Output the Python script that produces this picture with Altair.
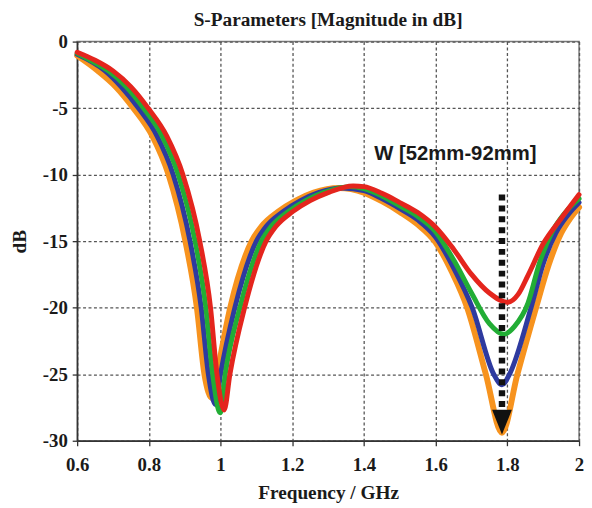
import altair as alt
import pandas as pd

# ---- data (frequency in GHz, magnitude in dB) ----
freq_orange = [0.60, 0.658, 0.708, 0.757, 0.81, 0.855, 0.902, 0.934, 0.955, 0.977, 0.99, 1.027, 1.087,
               1.114, 1.16, 1.21, 1.26, 1.33, 1.40, 1.45, 1.50, 1.55, 1.60, 1.645, 1.688, 1.74, 1.785,
               1.828, 1.88, 1.915, 1.95, 1.975, 2.00]
db_orange = [-1.05, -2.2, -3.4, -5.0, -7.1, -10.0, -15.0, -20.0, -25.0, -26.8, -25.0, -20.0, -15.0,
             -13.9, -12.8, -11.95, -11.35, -11.0, -11.35, -12.0, -12.8, -13.75, -15.1, -17.3, -20.0, -25.0, -29.4,
             -25.0, -20.0, -16.8, -14.4, -13.3, -12.45]

freq_blue = [0.60, 0.678, 0.723, 0.771, 0.823, 0.868, 0.915, 0.946, 0.966, 0.986, 1.0, 1.040, 1.100,
             1.127, 1.173, 1.223, 1.273, 1.34, 1.40, 1.45, 1.50, 1.55, 1.60, 1.65, 1.702, 1.762, 1.785,
             1.806, 1.866, 1.90, 1.935, 1.97, 2.00]
db_blue = [-0.95, -2.2, -3.4, -5.0, -7.1, -10.0, -15.0, -20.0, -25.0, -27.3, -25.0, -20.0, -15.0,
           -13.9, -12.8, -11.95, -11.35, -11.0, -11.2, -11.8, -12.55, -13.4, -14.7, -17.0, -20.0, -25.0, -25.8,
           -25.0, -20.0, -16.7, -14.4, -13.0, -12.1]

freq_green = [0.60, 0.637, 0.687, 0.737, 0.785, 0.837, 0.882, 0.929, 0.959, 0.978, 0.999, 1.013, 1.054,
              1.114, 1.141, 1.187, 1.237, 1.287, 1.36, 1.40, 1.45, 1.50, 1.55, 1.60, 1.65, 1.70, 1.75,
              1.79, 1.82, 1.857, 1.89, 1.925, 1.96, 2.00]
db_green = [-0.88, -1.4, -2.2, -3.4, -5.0, -7.1, -10.0, -15.0, -20.0, -25.0, -27.9, -25.0, -20.0,
            -15.0, -13.9, -12.8, -11.95, -11.35, -10.9, -11.05, -11.6, -12.35, -13.15, -14.3, -16.4, -18.9, -21.2,
            -22.0, -21.4, -19.7, -16.6, -14.3, -12.9, -11.8]

freq_red = [0.60, 0.65, 0.70, 0.75, 0.798, 0.85, 0.895, 0.942, 0.972, 0.99, 1.01, 1.026, 1.067, 1.127,
            1.154, 1.20, 1.25, 1.30, 1.37, 1.40, 1.45, 1.50, 1.55, 1.60, 1.65, 1.70, 1.75, 1.80, 1.83,
            1.857, 1.90, 1.95, 2.00]
db_red = [-0.8, -1.4, -2.2, -3.4, -5.0, -7.1, -10.0, -15.0, -20.0, -25.0, -27.7, -25.0, -20.0, -15.0,
          -13.9, -12.8, -11.95, -11.35, -10.85, -10.9, -11.4, -12.1, -12.85, -13.95, -15.6, -17.5, -18.9, -19.6, -19.0,
          -17.6, -15.2, -13.3, -11.5]

series_names = ["W=92mm", "W=78mm", "W=65mm", "W=52mm"]
series_colors = ["#f7931e", "#2e3a9f", "#22ad35", "#e4251d"]
series_widths = [6, 5, 5, 5]
series_freq = [freq_orange, freq_blue, freq_green, freq_red]
series_db = [db_orange, db_blue, db_green, db_red]

x_ticks = [0.6, 0.8, 1.0, 1.2, 1.4, 1.6, 1.8, 2.0]
y_ticks = [-30, -25, -20, -15, -10, -5, 0]

arrow_x = [1.785]
arrow_top = [-11.5]
arrow_bottom = [-28.0]
arrow_head = [-28.6]

note_text = ["W [52mm-92mm]"]
note_x = [1.655]
note_y = [-8.9]

# ---- encodings ----
SERIF = "Liberation Serif"
x_enc = alt.X("f:Q", scale=alt.Scale(domain=[0.6, 2.0], nice=False, zero=False),
              axis=alt.Axis(values=x_ticks, title="Frequency / GHz",
                            labelExpr="'' + datum.value",
                            titleX=254, titleY=52, titleBaseline="middle", titleAlign="center"))
y_enc = alt.Y("db:Q", scale=alt.Scale(domain=[-30, 0], nice=False, zero=False),
              axis=alt.Axis(values=y_ticks, title="dB",
                            labelExpr="'' + datum.value",
                            titleX=-58, titleY=202, titleAngle=-90,
                            titleBaseline="middle", titleAlign="center"))

layers = []
for name, col, w, fr, db in zip(series_names, series_colors, series_widths, series_freq, series_db):
    df = pd.DataFrame({"f": fr, "db": db, "series": name})
    layers.append(
        alt.Chart(df).mark_line(color=col, strokeWidth=w, interpolate="monotone",
                                strokeCap="round", strokeJoin="round")
        .encode(x=x_enc, y=y_enc)
    )

arrow_df = pd.DataFrame({"f": arrow_x, "db": arrow_top, "db2": arrow_bottom})
arrow_line = alt.Chart(arrow_df).mark_rule(color="#111111", strokeWidth=6.5,
                                           strokeDash=[6, 5]).encode(
    x=x_enc, y=y_enc, y2="db2:Q")

head_df = pd.DataFrame({"f": arrow_x, "db": arrow_head})
arrow_tip = alt.Chart(head_df).mark_point(
    shape="M-0.8,-1L0.8,-1L0,1Z", size=625, filled=True, color="#111111", opacity=1
).encode(x=x_enc, y=y_enc)

note_df = pd.DataFrame({"f": note_x, "db": note_y, "t": note_text})
note = alt.Chart(note_df).mark_text(
    font="Liberation Sans", fontSize=20.5, fontWeight="bold", color="#1a1a1a",
    align="center", baseline="alphabetic"
).encode(x=x_enc, y=y_enc, text="t:N")

chart = alt.layer(*layers, arrow_line, arrow_tip, note).properties(
    width=508, height=404,
    title=alt.TitleParams("S-Parameters [Magnitude in dB]", font=SERIF, fontSize=19.5,
                          fontWeight="bold", color="#1a1a1a", anchor="middle",
                          baseline="alphabetic", offset=-13),
    autosize=alt.AutoSizeParams(type="none"),
    padding={"left": 70, "top": 31, "right": 5, "bottom": 60},
).configure_view(
    stroke="#7a7a7a", strokeWidth=1.5
).configure_axis(
    labelFont=SERIF, labelFontSize=19, labelFontWeight="bold", labelColor="#1a1a1a",
    titleFont=SERIF, titleFontSize=19.5, titleFontWeight="bold", titleColor="#1a1a1a",
    grid=True, gridColor="#555555", gridDash=[3, 2.5], gridWidth=1.3, gridOpacity=1,
    domainColor="#333333", domainWidth=1.5,
    tickColor="#333333", tickSize=5, tickWidth=1.3,
    labelFlush=False, labelOverlap=False,
).configure_axisX(
    labelPadding=10
).configure_axisY(
    labelPadding=5
)

chart.save("out.html", embed_options={"renderer": "svg", "actions": False})
